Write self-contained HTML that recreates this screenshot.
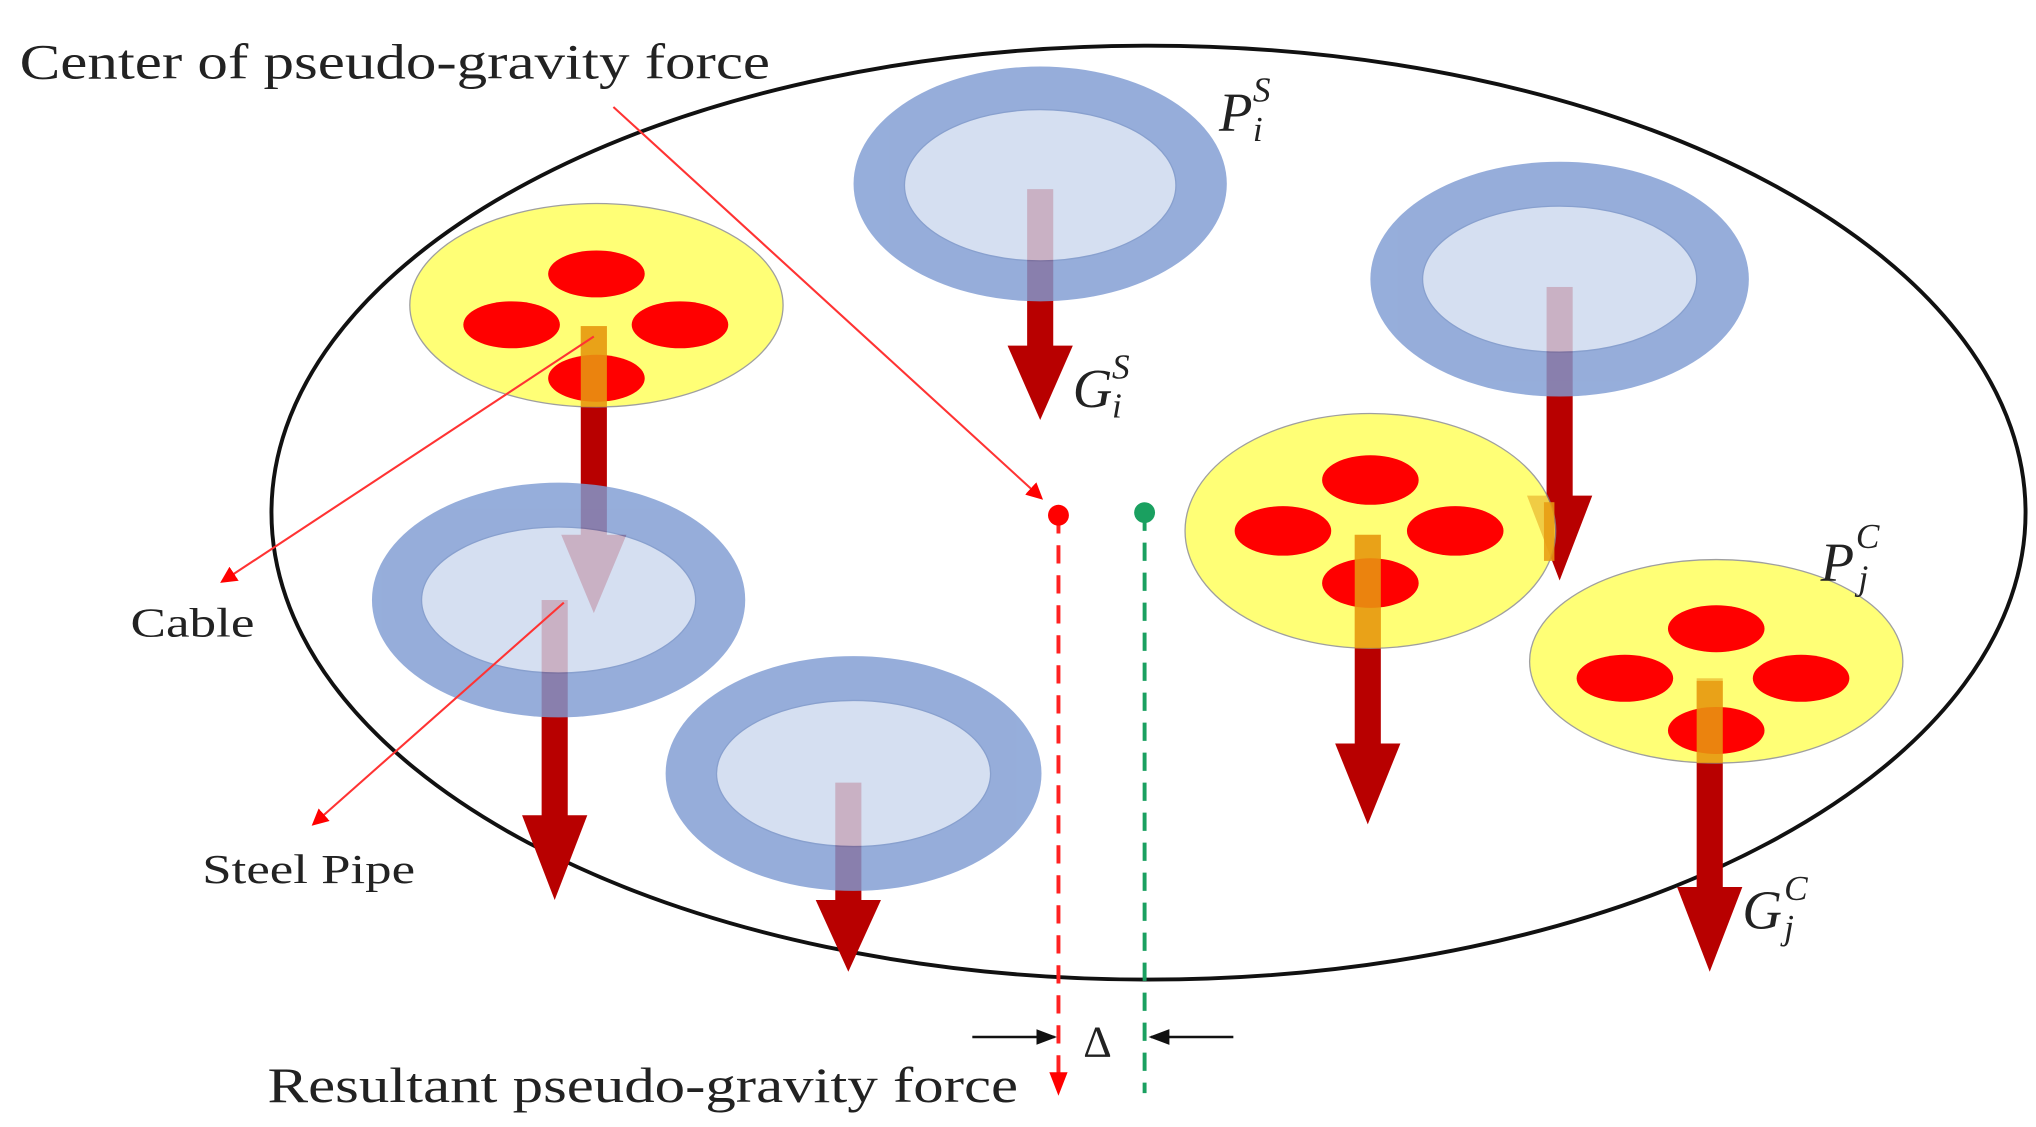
<!DOCTYPE html>
<html><head><meta charset="utf-8"><style>
html,body{margin:0;padding:0;background:#fff;}
svg{display:block;}
text{font-family:"Liberation Serif",serif;fill:#222;}
</style></head><body>
<svg width="2036" height="1127" viewBox="0 0 1560 864" preserveAspectRatio="none" xmlns="http://www.w3.org/2000/svg">
<defs>
<marker id="rh" markerWidth="8" markerHeight="8" refX="7" refY="4" orient="auto"><path d="M0,0 L8,4 L0,8 Z" fill="#f00"/></marker>
<marker id="bh" markerWidth="8" markerHeight="8" refX="7" refY="4" orient="auto"><path d="M0,1 L8,4 L0,7 Z" fill="#111"/></marker>
</defs>
<ellipse cx="880" cy="393" rx="672" ry="358" fill="none" stroke="#111" stroke-width="3"/>

<g fill="#b80000">
<rect x="787" y="145" width="20" height="125"/><polygon points="772,265 822,265 797,322"/>
<rect x="1185" y="220" width="20" height="165"/><polygon points="1170,380 1220,380 1195,445"/>
<rect x="445" y="250" width="20" height="165"/><polygon points="430,410 480,410 455,470"/>
<rect x="415" y="460" width="20" height="170"/><polygon points="400,625 450,625 425,690"/>
<rect x="640" y="600" width="20" height="95"/><polygon points="625,690 675,690 650,745"/>
<rect x="1038" y="410" width="20" height="165"/><polygon points="1023,570 1073,570 1048,632"/>
<rect x="1300" y="520" width="20" height="165"/><polygon points="1285,680 1335,680 1310,745"/>
</g>

<g opacity="0.82">
<ellipse cx="797" cy="141" rx="143" ry="90" fill="#7f9cd3"/>
<ellipse cx="797" cy="142" rx="104" ry="58" fill="#cdd8ef" stroke="#6f8cc4"/>
<ellipse cx="1195" cy="214" rx="145" ry="90" fill="#7f9cd3"/>
<ellipse cx="1195" cy="214" rx="105" ry="56" fill="#cdd8ef" stroke="#6f8cc4"/>
<ellipse cx="428" cy="460" rx="143" ry="90" fill="#7f9cd3"/>
<ellipse cx="428" cy="460" rx="105" ry="56" fill="#cdd8ef" stroke="#6f8cc4"/>
<ellipse cx="654" cy="593" rx="144" ry="90" fill="#7f9cd3"/>
<ellipse cx="654" cy="593" rx="105" ry="56" fill="#cdd8ef" stroke="#6f8cc4"/>
</g>
<g opacity="0.8">
<ellipse cx="457" cy="234" rx="143" ry="78" fill="#ffff55" stroke="#888"/>
<ellipse cx="1050" cy="407" rx="142" ry="90" fill="#ffff55" stroke="#888"/>
<ellipse cx="1315" cy="507" rx="143" ry="78" fill="#ffff55" stroke="#888"/>
</g>
<g fill="#ff0000">
<ellipse cx="457" cy="210" rx="37" ry="18"/><ellipse cx="392" cy="249" rx="37" ry="18"/><ellipse cx="521" cy="249" rx="37" ry="18"/><ellipse cx="457" cy="290" rx="37" ry="18"/>
<ellipse cx="1050" cy="368" rx="37" ry="19"/><ellipse cx="983" cy="407" rx="37" ry="19"/><ellipse cx="1115" cy="407" rx="37" ry="19"/><ellipse cx="1050" cy="447" rx="37" ry="19"/>
<ellipse cx="1315" cy="482" rx="37" ry="18"/><ellipse cx="1245" cy="520" rx="37" ry="18"/><ellipse cx="1380" cy="520" rx="37" ry="18"/><ellipse cx="1315" cy="560" rx="37" ry="18"/>
</g>
<g fill="#e89a10" opacity="0.85">
<rect x="445" y="250" width="20" height="62"/>
<rect x="1038" y="410" width="20" height="87"/>
<rect x="1300" y="522" width="20" height="63"/>
<rect x="1183" y="385" width="8" height="45"/>
</g>

<line x1="470" y1="82" x2="798" y2="382" stroke="#f33" stroke-width="1.6" marker-end="url(#rh)"/>
<line x1="455" y1="258" x2="170" y2="446" stroke="#f33" stroke-width="1.6" marker-end="url(#rh)"/>
<line x1="432" y1="462" x2="240" y2="632" stroke="#f33" stroke-width="1.6" marker-end="url(#rh)"/>

<line x1="811" y1="395" x2="811" y2="825" stroke="#f22" stroke-width="3" stroke-dasharray="14,9"/>
<polygon points="804,822 818,822 811,840" fill="#f00"/>
<circle cx="811" cy="395" r="8" fill="#f00"/>
<line x1="877" y1="393" x2="877" y2="838" stroke="#1aa060" stroke-width="3" stroke-dasharray="14,9"/>
<circle cx="877" cy="393" r="8" fill="#1aa060"/>
<line x1="745" y1="795" x2="808" y2="795" stroke="#111" stroke-width="2" marker-end="url(#bh)"/>
<line x1="945" y1="795" x2="882" y2="795" stroke="#111" stroke-width="2" marker-end="url(#bh)"/>

<text x="15" y="60" font-size="38" textLength="575" lengthAdjust="spacingAndGlyphs">Center of pseudo-gravity  force</text>
<text x="205" y="845" font-size="38" textLength="575" lengthAdjust="spacingAndGlyphs">Resultant pseudo-gravity  force</text>
<text x="100" y="488" font-size="32" textLength="95" lengthAdjust="spacingAndGlyphs">Cable</text>
<text x="155" y="677" font-size="32" textLength="163" lengthAdjust="spacingAndGlyphs">Steel Pipe</text>
<text x="830" y="810" font-size="34">Δ</text>
<g font-style="italic" font-size="42">
<text x="934" y="100">P</text><text x="960" y="78" font-size="27">S</text><text x="960" y="108" font-size="27">i</text>
<text x="822" y="312">G</text><text x="852" y="290" font-size="27">S</text><text x="852" y="320" font-size="27">i</text>
<text x="1395" y="445">P</text><text x="1422" y="420" font-size="27">C</text><text x="1424" y="452" font-size="27">j</text>
<text x="1335" y="712">G</text><text x="1367" y="690" font-size="27">C</text><text x="1367" y="720" font-size="27">j</text>
</g>
</svg>
</body></html>
